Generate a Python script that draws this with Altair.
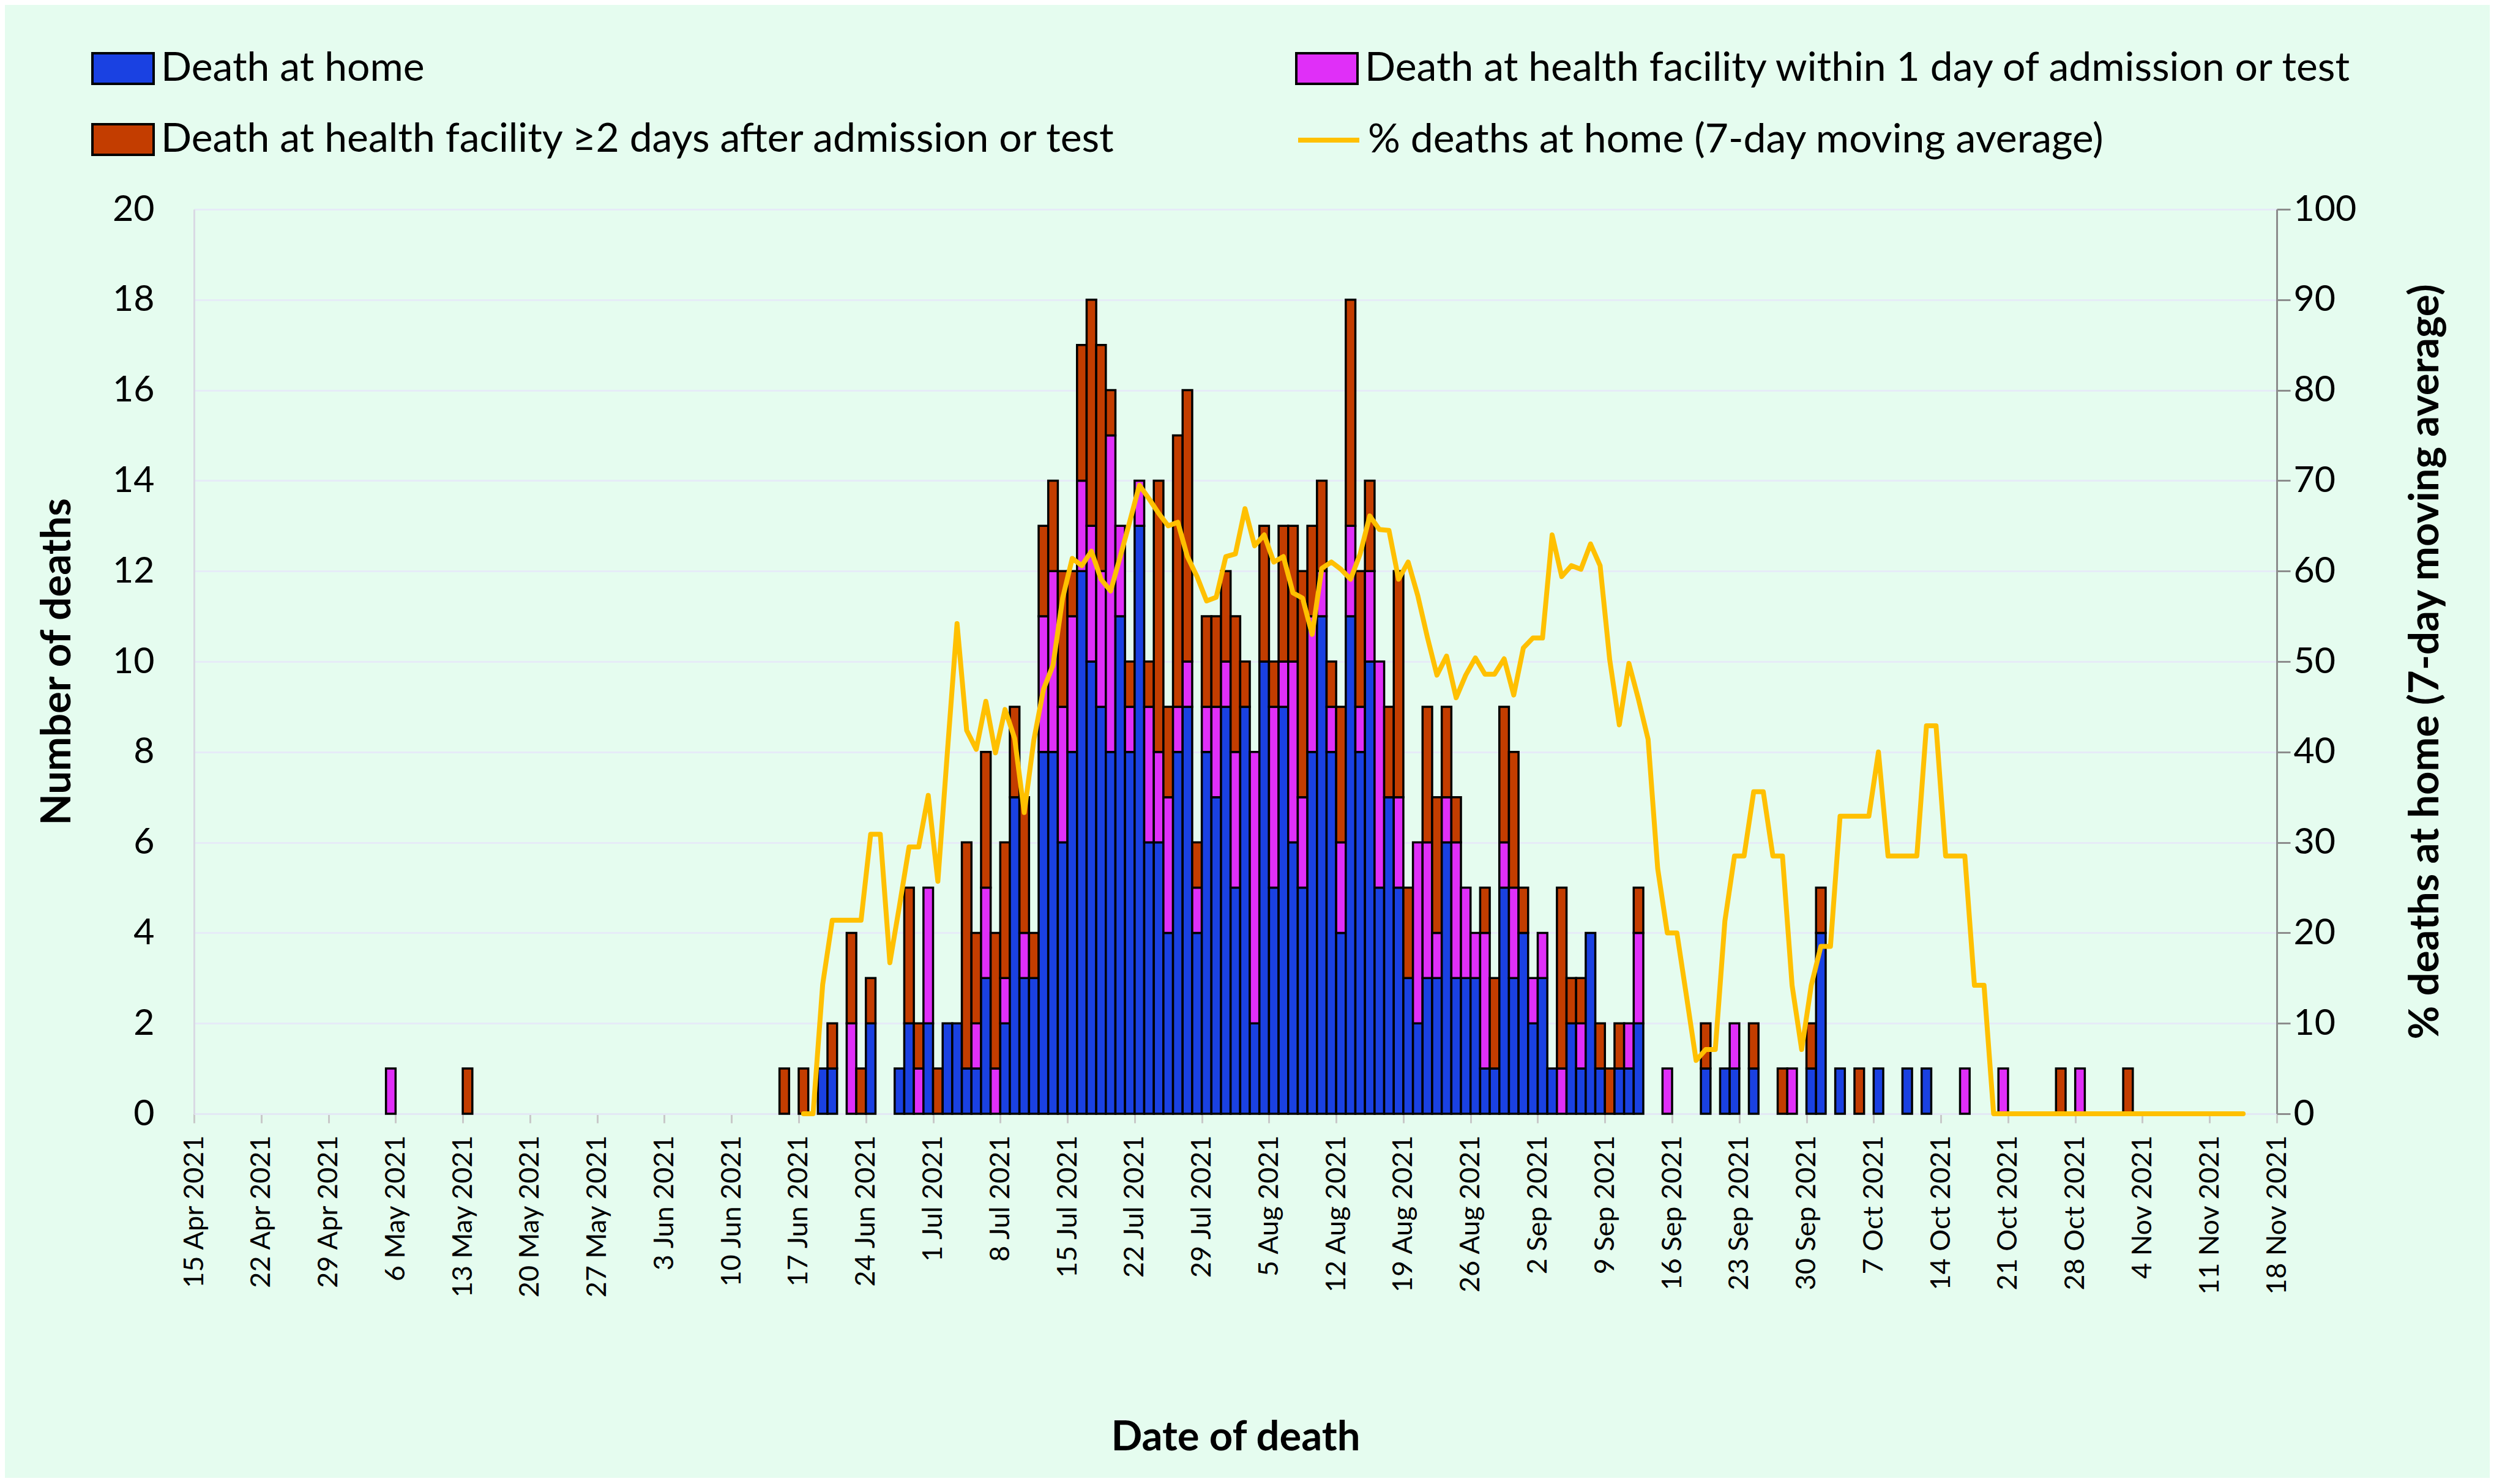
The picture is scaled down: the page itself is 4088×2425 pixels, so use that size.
import altair as alt
import pandas as pd

# ---------------- data ----------------
BAR_DATES = [
    "2021-05-06", "2021-05-14", "2021-06-16", "2021-06-18", "2021-06-20", "2021-06-21",
    "2021-06-23", "2021-06-24", "2021-06-25", "2021-06-28", "2021-06-29", "2021-06-30",
    "2021-07-01", "2021-07-02", "2021-07-03", "2021-07-04", "2021-07-05", "2021-07-06",
    "2021-07-07", "2021-07-08", "2021-07-09", "2021-07-10", "2021-07-11", "2021-07-12",
    "2021-07-13", "2021-07-14", "2021-07-15", "2021-07-16", "2021-07-17", "2021-07-18",
    "2021-07-19", "2021-07-20", "2021-07-21", "2021-07-22", "2021-07-23", "2021-07-24",
    "2021-07-25", "2021-07-26", "2021-07-27", "2021-07-28", "2021-07-29", "2021-07-30",
    "2021-07-31", "2021-08-01", "2021-08-02", "2021-08-03", "2021-08-04", "2021-08-05",
    "2021-08-06", "2021-08-07", "2021-08-08", "2021-08-09", "2021-08-10", "2021-08-11",
    "2021-08-12", "2021-08-13", "2021-08-14", "2021-08-15", "2021-08-16", "2021-08-17",
    "2021-08-18", "2021-08-19", "2021-08-20", "2021-08-21", "2021-08-22", "2021-08-23",
    "2021-08-24", "2021-08-25", "2021-08-26", "2021-08-27", "2021-08-28", "2021-08-29",
    "2021-08-30", "2021-08-31", "2021-09-01", "2021-09-02", "2021-09-03", "2021-09-04",
    "2021-09-05", "2021-09-06", "2021-09-07", "2021-09-08", "2021-09-09", "2021-09-10",
    "2021-09-11", "2021-09-12", "2021-09-13", "2021-09-16", "2021-09-20", "2021-09-22",
    "2021-09-23", "2021-09-25", "2021-09-28", "2021-09-29", "2021-10-01", "2021-10-02",
    "2021-10-04", "2021-10-06", "2021-10-08", "2021-10-11", "2021-10-13", "2021-10-17",
    "2021-10-21", "2021-10-27", "2021-10-29", "2021-11-03",
]
HOME = [
    0, 0, 0, 0, 1, 1,
    0, 0, 2, 1, 2, 0,
    2, 0, 2, 2, 1, 1,
    3, 0, 2, 7, 3, 3,
    8, 8, 6, 8, 12, 10,
    9, 8, 11, 8, 13, 6,
    6, 4, 8, 9, 4, 8,
    7, 9, 5, 9, 2, 10,
    5, 9, 6, 5, 8, 11,
    8, 4, 11, 8, 10, 5,
    7, 5, 3, 2, 3, 3,
    6, 3, 3, 3, 1, 1,
    5, 3, 4, 2, 3, 1,
    0, 2, 1, 4, 1, 0,
    1, 1, 2, 0, 1, 1,
    1, 1, 0, 0, 1, 4,
    1, 0, 1, 1, 1, 0,
    0, 0, 0, 0,
]
FAC_1DAY = [
    1, 0, 0, 0, 0, 0,
    2, 0, 0, 0, 0, 1,
    3, 0, 0, 0, 0, 1,
    2, 1, 1, 0, 1, 0,
    3, 4, 3, 3, 2, 3,
    3, 7, 2, 1, 1, 3,
    2, 3, 1, 1, 1, 1,
    2, 1, 3, 0, 6, 0,
    4, 1, 4, 2, 3, 1,
    1, 2, 2, 1, 2, 5,
    0, 2, 0, 4, 3, 1,
    1, 3, 2, 1, 3, 0,
    1, 2, 0, 1, 1, 0,
    1, 0, 1, 0, 0, 0,
    0, 1, 2, 1, 0, 0,
    1, 0, 0, 1, 0, 0,
    0, 0, 0, 0, 0, 1,
    1, 0, 1, 0,
]
FAC_2DAY = [
    0, 1, 1, 1, 0, 1,
    2, 1, 1, 0, 3, 1,
    0, 1, 0, 0, 5, 2,
    3, 3, 3, 2, 3, 1,
    2, 2, 3, 1, 3, 5,
    5, 1, 0, 1, 0, 1,
    6, 2, 6, 6, 1, 2,
    2, 2, 3, 1, 0, 3,
    1, 3, 3, 5, 2, 2,
    1, 3, 5, 3, 2, 0,
    2, 5, 2, 0, 3, 3,
    2, 1, 0, 0, 1, 2,
    3, 3, 1, 0, 0, 0,
    4, 1, 1, 0, 1, 1,
    1, 0, 1, 0, 1, 0,
    0, 1, 1, 0, 1, 1,
    0, 1, 0, 0, 0, 0,
    0, 1, 0, 1,
]

LINE_START = "2021-06-18"
PCT_HOME = [
    0, 0, 14.3, 21.4, 21.4, 21.4, 21.4, 30.9, 30.9, 16.7,
    23.0, 29.5, 29.5, 35.2, 25.7, 40.1, 54.2, 42.4, 40.3, 45.6,
    39.9, 44.7, 41.5, 33.3, 41.3, 46.9, 49.6, 57.0, 61.4, 60.6,
    62.2, 59.1, 57.8, 61.6, 65.5, 69.5, 68.0, 66.4, 65.0, 65.4,
    61.6, 59.4, 56.7, 57.1, 61.6, 61.9, 66.9, 62.8, 64.0, 61.0,
    61.6, 57.6, 57.0, 53.0, 60.3, 61.0, 60.2, 59.1, 61.9, 66.1,
    64.6, 64.5, 59.1, 61.0, 57.3, 52.7, 48.5, 50.6, 46.0, 48.5,
    50.4, 48.6, 48.6, 50.3, 46.3, 51.5, 52.6, 52.6, 64.0, 59.4,
    60.6, 60.2, 63.0, 60.6, 50.2, 43.0, 49.8, 45.8, 41.4, 27.1,
    20.0, 20.0, 13.0, 5.9, 7.1, 7.1, 21.3, 28.5, 28.5, 35.6,
    35.6, 28.5, 28.5, 14.2, 7.1, 14.2, 18.5, 18.5, 32.9, 32.9,
    32.9, 32.9, 40.0, 28.5, 28.5, 28.5, 28.5, 42.9, 42.9, 28.5,
    28.5, 28.5, 14.2, 14.2,
    0, 0, 0, 0, 0, 0, 0, 0, 0, 0, 0, 0, 0, 0, 0, 0, 0, 0, 0, 0,
    0, 0, 0, 0, 0, 0, 0,
]

X_TICKS = [
    "2021-04-15", "2021-04-22", "2021-04-29", "2021-05-06", "2021-05-13", "2021-05-20",
    "2021-05-27", "2021-06-03", "2021-06-10", "2021-06-17", "2021-06-24", "2021-07-01",
    "2021-07-08", "2021-07-15", "2021-07-22", "2021-07-29", "2021-08-05", "2021-08-12",
    "2021-08-19", "2021-08-26", "2021-09-02", "2021-09-09", "2021-09-16", "2021-09-23",
    "2021-09-30", "2021-10-07", "2021-10-14", "2021-10-21", "2021-10-28", "2021-11-04",
    "2021-11-11", "2021-11-18",
]
Y_LEFT_TICKS = [0, 2, 4, 6, 8, 10, 12, 14, 16, 18, 20]
Y_RIGHT_TICKS = [0, 10, 20, 30, 40, 50, 60, 70, 80, 90, 100]

SERIES = [
    "Death at home",
    "Death at health facility within 1 day of admission or test",
    "Death at health facility \u22652 days after admission or test",
]
COLORS = ["#1a41e2", "#e02ff8", "#c33d00"]
# legend lays entries out column by column: this order gives the reference's 2x2 grid
LEGEND_ORDER = [0, 2, 1]
LINE_SERIES = "% deaths at home (7-day moving average)"
LINE_COLOR = "#ffc000"

# ---------------- tables ----------------
DAY = 86400000


def ms(s):
    return int(pd.Timestamp(s, tz="UTC").value // 10**6)


rows = []
for d, h, f1, f2 in zip(BAR_DATES, HOME, FAC_1DAY, FAC_2DAY):
    end = ms(d)
    start = end - DAY
    base = 0
    for name, v in zip(SERIES, (h, f1, f2)):
        if v > 0:
            rows.append(dict(start=start, end=end, y0=base, y1=base + v, series=name))
            base += v
bars = pd.DataFrame(rows)

t0 = ms(LINE_START)
line = pd.DataFrame({
    "t": [t0 + i * DAY - DAY // 2 for i in range(len(PCT_HOME))],
    "pct": PCT_HOME,
    "series": LINE_SERIES,
})

# ---------------- chart ----------------
FONT = "Lato"
x_scale = alt.Scale(type="utc", domain=[ms(X_TICKS[0]), ms(X_TICKS[-1])], nice=False)

x_axis = alt.Axis(
    values=[ms(t) for t in X_TICKS], format="%-d %b %Y", labelAngle=270,
    labelFontSize=45, labelColor="black", labelPadding=20, labelOverlap=False,
    labelFlush=False, labelLimit=1000, tickSize=15, tickColor="#c8c8c8", tickWidth=3,
    domainColor="#e3e8f4", domainWidth=3, grid=False,
    title="Date of death", titleFontSize=67, titleFontWeight="bold",
    titleColor="black", titlePadding=296,
)
yl_axis = alt.Axis(
    values=Y_LEFT_TICKS, grid=True, gridColor="#e6ebf7", gridWidth=3,
    domainColor="#d9dae4", domainWidth=3, ticks=False, labelPadding=65,
    labelFontSize=59, labelColor="black",
    title="Number of deaths", titleFontSize=67, titleFontWeight="bold",
    titleColor="black", titlePadding=55,
)
yr_axis = alt.Axis(
    orient="right", values=Y_RIGHT_TICKS, grid=False, domainColor="#8c8c8c",
    domainWidth=3, tickColor="#8c8c8c", tickWidth=3, tickSize=22,
    labelPadding=5, labelFontSize=59, labelColor="black",
    title=LINE_SERIES, titleFontSize=67, titleFontWeight="bold",
    titleColor="black", titleAngle=270, titlePadding=148,
)

bar_legend = alt.Legend(
    orient="none", legendX=-168, legendY=-282, columns=2, columnPadding=285,
    rowPadding=31, symbolType="M-1,-0.5H1V0.5H-1Z", symbolSize=10000,
    symbolStrokeColor="black", symbolStrokeWidth=4, labelFontSize=66,
    labelColor="black", labelLimit=3000, labelOffset=10, padding=0,
)
line_legend = alt.Legend(
    orient="none", legendX=1800, legendY=-167, symbolType="stroke",
    symbolSize=10000, symbolStrokeWidth=8, labelFontSize=66,
    labelColor="black", labelLimit=3000, labelOffset=10, padding=0,
)

bar_layer = alt.Chart(bars).mark_bar(stroke="black", strokeWidth=3.5).encode(
    x=alt.X("start:T", scale=x_scale, axis=x_axis),
    x2="end:T",
    y=alt.Y("y0:Q", scale=alt.Scale(domain=[0, 20], nice=False), axis=yl_axis),
    y2="y1:Q",
    color=alt.Color("series:N",
                    scale=alt.Scale(domain=[SERIES[i] for i in LEGEND_ORDER],
                                    range=[COLORS[i] for i in LEGEND_ORDER]),
                    legend=bar_legend, title=None),
)

line_layer = alt.Chart(line).mark_line(strokeWidth=8, strokeJoin="round", strokeCap="round").encode(
    x=alt.X("t:T", scale=x_scale),
    y=alt.Y("pct:Q", scale=alt.Scale(domain=[0, 100], nice=False), axis=yr_axis),
    stroke=alt.Stroke("series:N", scale=alt.Scale(domain=[LINE_SERIES], range=[LINE_COLOR]),
                      legend=line_legend, title=None),
)

chart = (
    alt.layer(bar_layer, line_layer)
    .resolve_scale(y="independent")
    .properties(
        width=3403, height=1478,
        autosize=alt.AutoSizeParams(type="none"),
        padding={"left": 309, "top": 334, "right": 348, "bottom": 595},
        background="#e5fcef",
    )
    .configure(font=FONT)
    .configure_view(strokeOpacity=0)
)

chart.save("out.html", embed_options={"renderer": "svg", "actions": False})
